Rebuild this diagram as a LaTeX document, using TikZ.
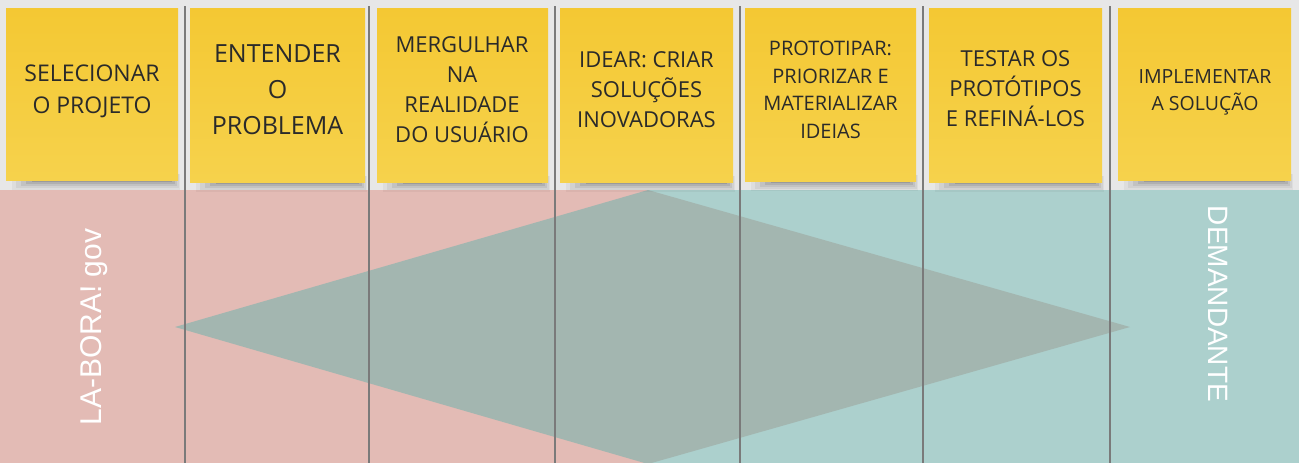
\documentclass[tikz,border=0pt]{standalone}
\usepackage{fontspec}
\setmainfont{Open Sans}
\newfontfamily\lanefont{Liberation Sans}
\definecolor{bandgray}{HTML}{E7E7E7}
\definecolor{lanepink}{HTML}{E3BBB5}
\definecolor{laneteal}{HTML}{ACD0CD}
\definecolor{diamondc}{HTML}{A3B6B0}
\definecolor{notetop}{HTML}{F4C833}
\definecolor{notebot}{HTML}{F6D24C}
\definecolor{sepline}{HTML}{7A7A7A}
\definecolor{inktext}{HTML}{2A2A2A}
\newcommand\stickynote[5]{%
  \fill[black, opacity=0.04] (#2+6, #5-6) rectangle (#4+2, #5+10);
  \fill[black, opacity=0.05] (#2+10, #5-6) rectangle (#4+1, #5+8);
  \fill[black, opacity=0.07] (#2+15, #5-6) rectangle (#4-1, #5+6);
  \fill[black, opacity=0.09] (#2+20, #5-6) rectangle (#4-3, #5+4);
  \fill[black, opacity=0.12] (#2+26, #5-6) rectangle (#4-6, #5+2);
  \path[top color=notetop, bottom color=notebot] (#2,#3) rectangle (#4,#5);
  \coordinate (#1) at ({(#2+#4)/2},{(#3+#5)/2});
}
\begin{document}
\begin{tikzpicture}[x=1pt,y=-1pt,
  steptext/.style={text=inktext, align=center, inner sep=0pt},
  lanelabel/.style={text=white, inner sep=0pt, font=\lanefont\fontsize{30}{34}\selectfont},
  sep/.style={draw=sepline, line width=2pt}]
\useasboundingbox (0,0) rectangle (1299,463);
% backgrounds
\fill[bandgray] (0,0) rectangle (1299,190);
\fill[lanepink] (0,190) rectangle (648,463);
\fill[laneteal] (648,190) rectangle (1299,463);
% diamond
\coordinate (dtop) at (648,190);
\coordinate (dleft) at (175,327);
\coordinate (dright) at (1130,327);
\coordinate (dbot) at (648,464);
\fill[diamondc] (dtop) -- (dright) -- (dbot) -- (dleft) -- cycle;
% separators
\foreach \x [count=\i] in {185,369,555,740,923,1110} {
  \coordinate (s\i a) at (\x,6);
  \coordinate (s\i b) at (\x,463);
  \draw[sep] (s\i a) -- (s\i b);
}
% sticky notes
\stickynote{n1}{6}{8}{178}{180}
\stickynote{n2}{190}{8}{365}{182}
\stickynote{n3}{377}{8}{548}{182}
\stickynote{n4}{560}{8}{733}{182}
\stickynote{n5}{745}{8}{916}{181}
\stickynote{n6}{929}{8}{1102}{182}
\stickynote{n7}{1118}{8}{1291}{180}
% texts
\node[steptext, font=\fontsize{23}{32}\selectfont] (t1) at (92,91) {SELECIONAR\\O PROJETO};
\node[steptext, font=\fontsize{25}{36}\selectfont] (t2) at (277.5,90) {ENTENDER\\O\\PROBLEMA};
\node[steptext, font=\fontsize{22}{30}\selectfont] (t3) at (462,90) {MERGULHAR\\NA\\REALIDADE\\DO USUÁRIO};
\node[steptext, font=\fontsize{22}{30}\selectfont] (t4) at (646.5,90) {IDEAR: CRIAR\\SOLUÇÕES\\INOVADORAS};
\node[steptext, font=\fontsize{20}{27.5}\selectfont] (t5) at (830.5,90) {PROTOTIPAR:\\PRIORIZAR E\\MATERIALIZAR\\IDEIAS};
\node[steptext, font=\fontsize{22}{30}\selectfont] (t6) at (1015.5,89) {TESTAR OS\\PROTÓTIPOS\\E REFINÁ-LOS};
\node[steptext, font=\fontsize{19.5}{27}\selectfont] (t7) at (1205,92) {IMPLEMENTAR\\A SOLUÇÃO};
% lane labels
\node[lanelabel, rotate=90, anchor=base] (labora) at (101.5,327) {LA-BORA! gov};
\node[lanelabel, font=\lanefont\fontsize{28}{32}\selectfont, rotate=-90, anchor=base] (demand) at (1208,304) {DEMANDANTE};
\end{tikzpicture}
\end{document}
